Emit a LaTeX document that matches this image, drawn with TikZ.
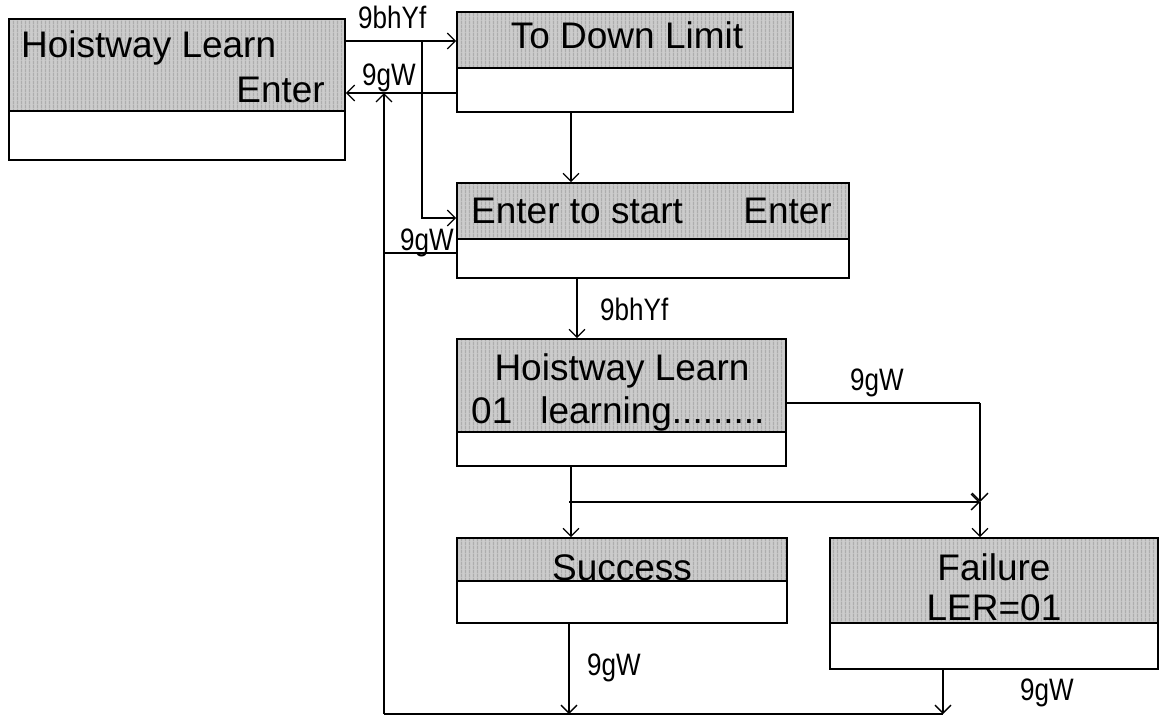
\documentclass[tikz,border=0pt]{standalone}
\usepackage{fontspec}
\setmainfont{Liberation Sans}
\usetikzlibrary{arrows.meta,fit,patterns.meta}
\pgfdeclarepattern{name=vstripes, type=uncolored, bottom left={\pgfpoint{0pt}{0pt}}, top right={\pgfpoint{4pt}{4pt}}, tile size={\pgfpoint{4pt}{4pt}}, code={\pgfsetlinewidth{1.6pt}\pgfpathmoveto{\pgfpoint{2pt}{-0.1pt}}\pgfpathlineto{\pgfpoint{2pt}{4.1pt}}\pgfusepath{stroke}}}
\newcommand\cond[1]{\scalebox{0.84}[1]{#1}}
\tikzset{
  lcdfill/.style={fill=black!20, postaction={pattern=vstripes, pattern color=black!32}},
  box/.style={draw, line width=1.6pt, inner sep=0pt, fit=#1},
  divider/.style={line width=1.6pt},
  txt/.style={inner sep=0pt, font=\fontsize{37}{40}\selectfont},
  lbl/.style={inner sep=0pt, font=\fontsize{31}{34}\selectfont},
  conn/.style={line width=1.3pt},
  arr/.style={conn, -{Straight Barb[length=8pt,width=16pt,line width=1.3pt]}}
}
\begin{document}
\begin{tikzpicture}[x=1pt,y=-1pt]
\useasboundingbox (0,0) rectangle (1161,716);
% fills
\fill[lcdfill] (9,19) rectangle (345,111);
\fill[lcdfill] (457,12) rectangle (793,68);
\fill[lcdfill] (457,183) rectangle (849,239);
\fill[lcdfill] (457,339) rectangle (786,432);
\fill[lcdfill] (457,538) rectangle (787,581);
\fill[lcdfill] (830,538) rectangle (1158,623);
% coordinates for box corners
\coordinate (p1a) at (9,19);   \coordinate (p1b) at (345,160);
\coordinate (p2a) at (457,12); \coordinate (p2b) at (793,112);
\coordinate (p3a) at (457,183);\coordinate (p3b) at (849,278);
\coordinate (p4a) at (457,339);\coordinate (p4b) at (786,466);
\coordinate (p5a) at (457,538);\coordinate (p5b) at (787,623);
\coordinate (p6a) at (830,538);\coordinate (p6b) at (1158,669);
\node[box={(p1a)(p1b)}] (b1) {};
\node[box={(p2a)(p2b)}] (b2) {};
\node[box={(p3a)(p3b)}] (b3) {};
\node[box={(p4a)(p4b)}] (b4) {};
\node[box={(p5a)(p5b)}] (b5) {};
\node[box={(p6a)(p6b)}] (b6) {};
% dividers
\coordinate (d1) at (0,111); \coordinate (d2) at (0,68); \coordinate (d3) at (0,239);
\coordinate (d4) at (0,432); \coordinate (d5) at (0,581); \coordinate (d6) at (0,623);
\draw[divider] (b1.west |- d1) -- (b1.east |- d1);
\draw[divider] (b2.west |- d2) -- (b2.east |- d2);
\draw[divider] (b3.west |- d3) -- (b3.east |- d3);
\draw[divider] (b4.west |- d4) -- (b4.east |- d4);
\draw[divider] (b5.west |- d5) -- (b5.east |- d5);
\draw[divider] (b6.west |- d6) -- (b6.east |- d6);
% texts
\node[txt, anchor=base west] (t1a) at (21,57) {Hoistway Learn};
\node[txt, anchor=base east] (t1b) at (325,102) {Enter};
\node[txt, anchor=base] (t2) at (627,48) {To Down Limit};
\node[txt, anchor=base west] (t3a) at (471,223) {Enter to start};
\node[txt, anchor=base east] (t3b) at (832,223) {Enter};
\node[txt, anchor=base] (t4a) at (622,380) {Hoistway Learn};
\node[txt, anchor=base west] (t4b) at (471,423) {01\hspace{28pt}learning.........};
\node[txt, anchor=base] (t5) at (622,580) {Success};
\node[txt, anchor=base] (t6a) at (994,580) {Failure};
\node[txt, anchor=base] (t6b) at (994,620) {LER=01};
% labels
\node[lbl, anchor=base west] (l1) at (358,28) {\cond{9bhYf}};
\node[lbl, anchor=base west] (l2) at (362,85) {\cond{9gW}};
\node[lbl, anchor=base west] (l3) at (400,250) {\cond{9gW}};
\node[lbl, anchor=base west] (l4) at (600,320) {\cond{9bhYf}};
\node[lbl, anchor=base west] (l5) at (850,390) {\cond{9gW}};
\node[lbl, anchor=base west] (l6) at (587,675) {\cond{9gW}};
\node[lbl, anchor=base west] (l7) at (1020,700) {\cond{9gW}};
% helper coordinates
\coordinate (y41) at (0,41);
\coordinate (y93) at (0,93);
\coordinate (y218) at (0,218);
\coordinate (y253) at (0,253);
\coordinate (y403) at (0,403);
\coordinate (j1) at (422,41);
\coordinate (ret) at (384,93);
\coordinate (retb) at (384,714);
\coordinate (r3) at (384,253);
\coordinate (x571) at (571,0);
\coordinate (x577) at (577,0);
\coordinate (x569) at (569,0);
\coordinate (x943) at (943,0);
\coordinate (f1) at (980,403);
\coordinate (f2) at (980,502);
\coordinate (s1) at (569,502);
\coordinate (sb) at (569,714);
\coordinate (fb) at (943,714);
% connectors
\draw[arr] (b1.east |- y41) -- (b2.west |- y41);
\draw[arr] (j1) |- (b3.west |- y218);
\draw[arr] (b2.west |- y93) -- (b1.east |- y93);
\draw[arr] (retb) -- (ret);
\draw[conn] (retb) -- (fb);
\draw[conn] (b3.west |- y253) -- (r3);
\draw[arr] (b2.south -| x571) -- (b3.north -| x571);
\draw[arr] (b3.south -| x577) -- (b4.north -| x577);
\draw[conn] (b4.east |- y403) -- (f1);
\draw[arr] (f1) -- (f2);
\draw[arr] (f2) -- (b6.north -| f2);
\draw[arr] (b4.south -| x571) -- (b5.north -| x571);
\draw[arr] (s1) -- (f2);
\draw[arr] (b5.south -| x569) -- (sb);
\draw[arr] (b6.south -| x943) -- (fb);
\end{tikzpicture}
\end{document}
